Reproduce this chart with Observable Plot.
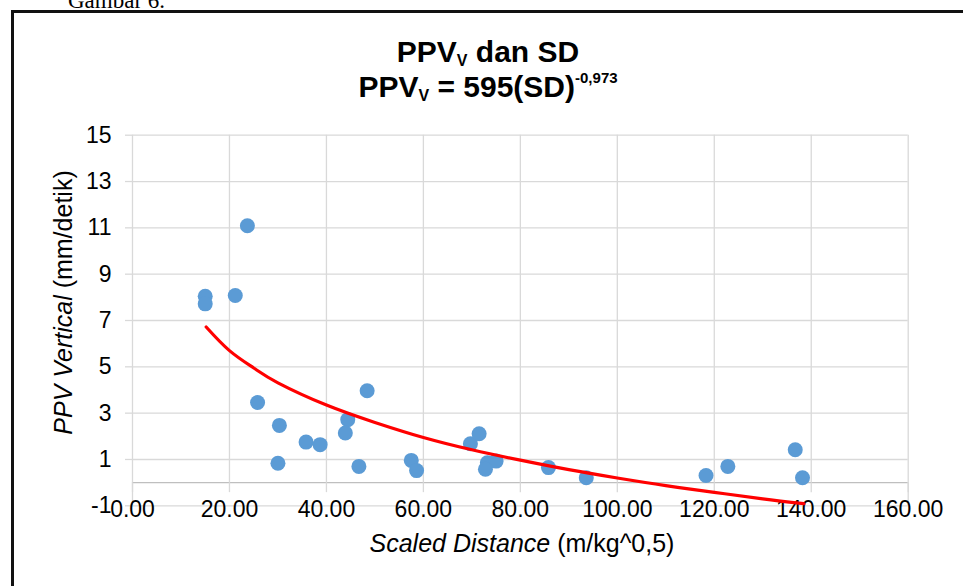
<!DOCTYPE html>
<html>
<head>
<meta charset="utf-8">
<script src="https://cdn.jsdelivr.net/npm/d3@7"></script>
<script src="https://cdn.jsdelivr.net/npm/@observablehq/plot@0.6"></script>
<style>
  body { margin: 0; background: #fff; }
  #wrap { position: relative; width: 963px; height: 586px; overflow: hidden; background: #fff; font-family: "Liberation Sans", Arial, sans-serif; }
  #chart { position: absolute; left: 0; top: 0; }
  .abs { position: absolute; white-space: nowrap; }
  #gambar { left: 68px; top: -10px; font: 23px/22px "Liberation Serif", "Times New Roman", serif; color: #000; }
  #frame { left: 11px; top: 10px; width: 1000px; height: 700px; border: 3px solid #111; box-sizing: border-box; }
  .title { left: 0; width: 976px; text-align: center; font-weight: bold; font-size: 30px; line-height: 30px; color: #000; }
  .title sub { font-size: 16px; vertical-align: -4px; line-height: 0; }
  .title sup { font-size: 15px; vertical-align: 14px; line-height: 0; }
  #t1 { top: 37px; }
  #t2 { top: 72px; }
  #xlab { left: 322px; width: 400px; top: 531px; text-align: center; font-size: 25px; line-height: 25px; color: #000; }
  #ylab { left: -137px; width: 400px; top: 290px; height: 25px; text-align: center; font-size: 25px; line-height: 25px; color: #000; transform: rotate(-90deg); }
</style>
</head>
<body>
<div id="wrap">
  <div id="gambar" class="abs">Gambar 6.</div>
  <div id="chart"></div>
  <div id="frame" class="abs"></div>
  <div id="t1" class="abs title">PPV<sub>V</sub> dan SD</div>
  <div id="t2" class="abs title">PPV<sub>V</sub> = 595(SD)<sup>-0,973</sup></div>
  <div id="ylab" class="abs"><i>PPV Vertical</i> (mm/detik)</div>
  <div id="xlab" class="abs"><i>Scaled Distance</i> (m/kg^0,5)</div>
</div>
<script>
// Scatter data: Scaled Distance (m/kg^0.5) and PPV vertical (mm/detik)
const sd  = [15.0, 15.0, 21.2, 23.7, 25.8, 30.3, 30.0, 35.8, 38.7, 44.4, 43.9, 46.7, 48.4, 57.5, 58.6, 69.7, 71.5, 73.2, 75.0, 72.8, 85.8, 93.6, 118.3, 122.8, 136.7, 138.2];
const ppv = [8.05, 7.72, 8.08, 11.09, 3.46, 2.47, 0.84, 1.75, 1.64, 2.72, 2.14, 0.70, 3.97, 0.96, 0.52, 1.68, 2.11, 0.86, 0.93, 0.58, 0.65, 0.21, 0.31, 0.70, 1.42, 0.21];

// Trend line
const trendSD  = [15.2, 20, 25, 30, 40, 50, 60, 70, 80, 90, 100, 110, 120, 130, 138.5];
const trendPPV = [6.72, 5.70, 4.95, 4.31, 3.35, 2.60, 1.95, 1.42, 0.97, 0.56, 0.20, -0.13, -0.42, -0.70, -0.91];

// Axis ticks
const xTicks = [0, 20, 40, 60, 80, 100, 120, 140, 160];
const xTickLabels = ["0.00", "20.00", "40.00", "60.00", "80.00", "100.00", "120.00", "140.00", "160.00"];
const yTicks = [-1, 1, 3, 5, 7, 9, 11, 13, 15];
const xInnerGrid = [20, 40, 60, 80, 100, 120, 140];
const xOuter = [0, 160];

const points = sd.map((x, i) => ({x, y: ppv[i]}));
const trend = trendSD.map((x, i) => ({x, y: trendPPV[i]}));

const W = 963, H = 586;
const mTop = 134.7, mBottom = 80.7, mLeft = 132, mRight = 55.3;
const unitPx = (H - mTop - mBottom) / (15 - (-1));
const grid = "#d9d9d9";

const chart = Plot.plot({
  width: W,
  height: H,
  marginTop: mTop,
  marginBottom: mBottom,
  marginLeft: mLeft,
  marginRight: mRight,
  style: { fontFamily: "'Liberation Sans', Arial, sans-serif", fontSize: "23px", color: "#000", background: "transparent" },
  x: { domain: [0, 160] },
  y: { domain: [-1, 15] },
  marks: [
    Plot.gridY(yTicks, { stroke: grid, strokeOpacity: 1, strokeWidth: 1.3 }),
    Plot.ruleX(xInnerGrid, { y1: 0, y2: 15, stroke: grid, strokeWidth: 1.3 }),
    Plot.ruleX(xOuter, { stroke: grid, strokeWidth: 1.3 }),
    Plot.ruleY([0], { stroke: "#bfbfbf", strokeWidth: 1.3 }),
    Plot.axisY(yTicks, { tickSize: 7, tickPadding: 14, stroke: grid, strokeWidth: 1.3, fill: "#000", label: null, tickFormat: d => String(d), fontSize: 23 }),
    Plot.axisX(xTicks, { anchor: "bottom", dy: -unitPx, tickSize: 10, tickPadding: 8, stroke: grid, strokeWidth: 1.3, fill: "#000", label: null, tickFormat: d => xTickLabels[xTicks.indexOf(d)], fontSize: 23 }),
    Plot.dot(points, { x: "x", y: "y", r: 7.5, fill: "#5b9bd5", stroke: "none" }),
    Plot.line(trend, { x: "x", y: "y", stroke: "#ff0000", strokeWidth: 3.2, curve: "natural" })
  ]
});
document.getElementById("chart").appendChild(chart);
</script>
</body>
</html>
